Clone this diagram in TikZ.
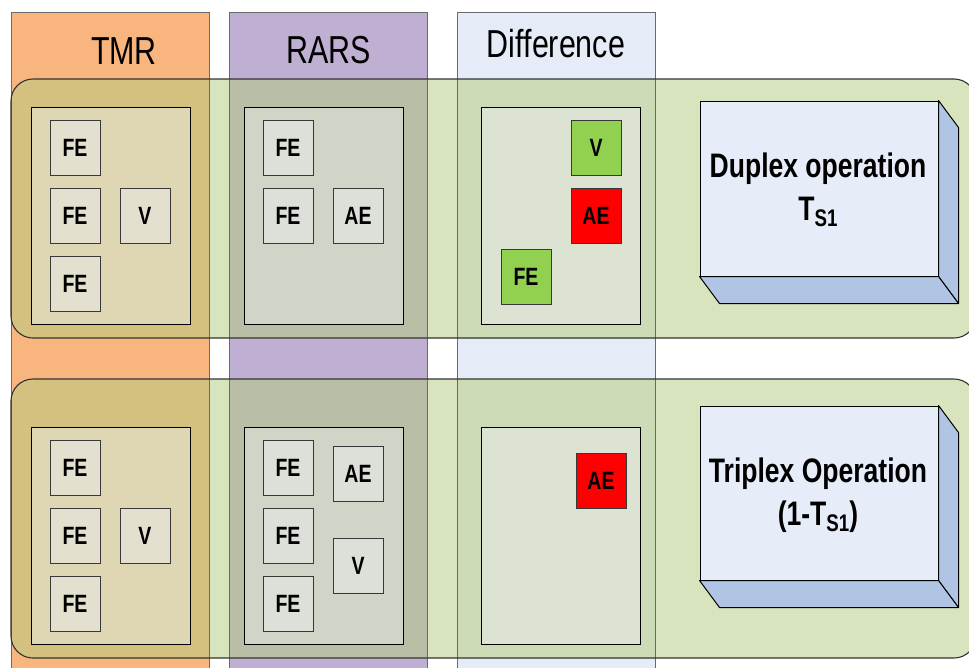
\documentclass[tikz,border=0pt]{standalone}
\usepackage{fontspec}
\setmainfont[FakeStretch=0.78]{Liberation Sans}
\usetikzlibrary{calc}
\definecolor{tmrc}{HTML}{F8B57E}
\definecolor{rarsc}{HTML}{BFB0D3}
\definecolor{diffc}{HTML}{E5ECF7}
\definecolor{panelc}{HTML}{D7E4BD}
\definecolor{tmrpan}{HTML}{D4C17F}
\definecolor{rarspan}{HTML}{B8BFA6}
\definecolor{diffpan}{HTML}{CCDAB5}
\definecolor{tmrin}{HTML}{DFD6B4}
\definecolor{tmrsm}{HTML}{E3E0D0}
\definecolor{rarsin}{HTML}{D0D5C8}
\definecolor{rarssm}{HTML}{DCE0D8}
\definecolor{diffin}{HTML}{DCE3D3}
\definecolor{okgreen}{HTML}{92D050}
\definecolor{front}{HTML}{E6EDF8}
\definecolor{side}{HTML}{B0C4E3}
\definecolor{colline}{HTML}{6A6A6A}
\begin{document}
\begin{tikzpicture}[x=1pt,y=-1pt,
  hdr/.style={anchor=base,inner sep=0pt,font=\fontsize{39}{44}\selectfont},
  inbox/.style={draw=black,line width=1pt,minimum width=159pt,minimum height=217pt,inner sep=0pt},
  smbox/.style={draw=black!78,line width=0.9pt,minimum width=50pt,minimum height=55pt,inner sep=0pt,font=\fontsize{25}{25}\selectfont\bfseries},
  frontbox/.style={draw=black,line width=1pt,fill=front,minimum width=238pt,inner sep=0pt},
  sideface/.style={draw=black,line width=1pt,fill=side,line join=round},
  optext/.style={anchor=base,inner sep=0pt,font=\fontsize{34}{40}\selectfont\bfseries},
  panelline/.style={draw=black!80,line width=1.1pt,rounded corners=22pt}
]
\useasboundingbox (0,0) rectangle (969,667);
\clip (0,0) rectangle (969,667);
\fill[white] (0,0) rectangle (969,667);
% columns
\fill[tmrc] (11,12) rectangle (209,680);
\fill[rarsc] (229,12) rectangle (427,680);
\fill[diffc] (457,12) rectangle (655,680);
% panels
\foreach \t/\b in {79/338,379/658}{
  \fill[panelc,rounded corners=22pt] (11,\t) rectangle (976,\b);
  \begin{scope}
    \clip[rounded corners=22pt] (11,\t) rectangle (976,\b);
    \fill[tmrpan] (11,0) rectangle (209,700);
    \fill[rarspan] (229,0) rectangle (427,700);
    \fill[diffpan] (457,0) rectangle (655,700);
  \end{scope}
}
% column outlines
\draw[colline,line width=0.9pt] (11,680) -- (11,12) -- (209,12) -- (209,680);
\draw[colline,line width=0.9pt] (229,680) -- (229,12) -- (427,12) -- (427,680);
\draw[colline,line width=0.9pt] (457,680) -- (457,12) -- (655,12) -- (655,680);
% panel outlines
\draw[panelline] (11,79) rectangle (976,338);
\draw[panelline] (11,379) rectangle (976,658);
% headers
\node[hdr] (htmr) at (124,64) {TMR};
\node[hdr] (hrars) at (329,63) {RARS};
\node[hdr] (hdiff) at (556,57) {Difference};
% top row inner boxes
\node[inbox,fill=tmrin] (tmrA) at (110.5,215.5) {};
\node[inbox,fill=rarsin] (rarsA) at (323.5,215.5) {};
\node[inbox,fill=diffin] (diffA) at (560.5,215.5) {};
\node[smbox,fill=tmrsm] (tA1) at (75,147.5) {FE};
\node[smbox,fill=tmrsm] (tA2) at (75,215.5) {FE};
\node[smbox,fill=tmrsm] (tA3) at (75,283.5) {FE};
\node[smbox,fill=tmrsm] (tAv) at (145,215.5) {V};
\node[smbox,fill=rarssm] (rA1) at (288,147.5) {FE};
\node[smbox,fill=rarssm] (rA2) at (288,215.5) {FE};
\node[smbox,fill=rarssm] (rAae) at (358,215.5) {AE};
\node[smbox,fill=okgreen] (dAv) at (596,147.5) {V};
\node[smbox,fill=red] (dAae) at (596,215.5) {AE};
\node[smbox,fill=okgreen] (dAfe) at (526,277) {FE};
% bottom row inner boxes
\node[inbox,fill=tmrin] (tmrB) at (110.5,535.5) {};
\node[inbox,fill=rarsin] (rarsB) at (323.5,535.5) {};
\node[inbox,fill=diffin] (diffB) at (560.5,535.5) {};
\node[smbox,fill=tmrsm] (tB1) at (75,467.5) {FE};
\node[smbox,fill=tmrsm] (tB2) at (75,535.5) {FE};
\node[smbox,fill=tmrsm] (tB3) at (75,603.5) {FE};
\node[smbox,fill=tmrsm] (tBv) at (145,535.5) {V};
\node[smbox,fill=rarssm] (rB1) at (288,467.5) {FE};
\node[smbox,fill=rarssm] (rB2) at (288,535.5) {FE};
\node[smbox,fill=rarssm] (rB3) at (288,603.5) {FE};
\node[smbox,fill=rarssm] (rBae) at (358,474) {AE};
\node[smbox,fill=rarssm] (rBv) at (358,566) {V};
\node[smbox,fill=red] (dBae) at (601,481) {AE};
% 3D boxes
\node[frontbox,minimum height=175pt] (dup) at (819,188.5) {};
\draw[sideface] (dup.north east) -- ($(dup.north east)+(20,27)$) -- ($(dup.south east)+(20,27)$) -- (dup.south east) -- cycle;
\draw[sideface] (dup.south west) -- (dup.south east) -- ($(dup.south east)+(20,27)$) -- ($(dup.south west)+(20,27)$) -- cycle;
\node[optext] (dupt1) at (818,177) {Duplex operation};
\node[optext] (dupt2) at (818,220) {T\raisebox{-6pt}{\fontsize{24}{24}\selectfont S1}};
\node[frontbox,minimum height=174pt] (tri) at (819,493) {};
\draw[sideface] (tri.north east) -- ($(tri.north east)+(20,27)$) -- ($(tri.south east)+(20,27)$) -- (tri.south east) -- cycle;
\draw[sideface] (tri.south west) -- (tri.south east) -- ($(tri.south east)+(20,27)$) -- ($(tri.south west)+(20,27)$) -- cycle;
\node[optext] (trit1) at (818,482) {Triplex Operation};
\node[optext] (trit2) at (818,525) {(1-T\raisebox{-6pt}{\fontsize{24}{24}\selectfont S1})};
\end{tikzpicture}
\end{document}
